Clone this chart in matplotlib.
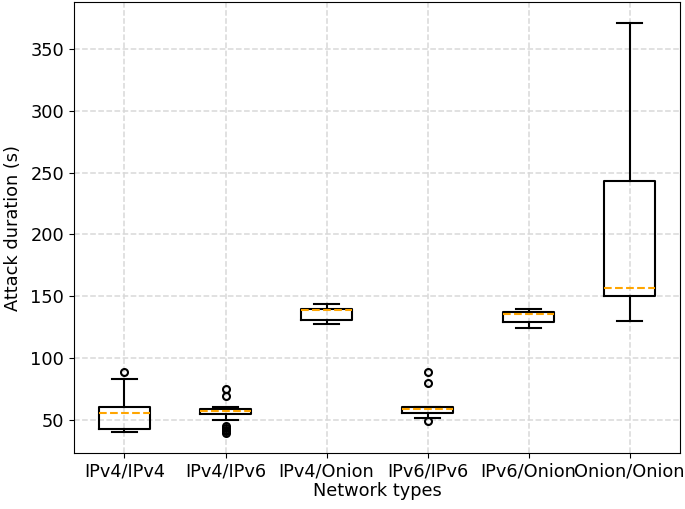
import matplotlib.pyplot as plt

# Network type categories
network_types = ["IPv4/IPv4", "IPv4/IPv6", "IPv4/Onion", "IPv6/IPv6", "IPv6/Onion", "Onion/Onion"]

# Box statistics (seconds)
whisker_low = [40.1, 49.8, 127.7, 51.0, 124.0, 129.9]
q1_values = [42.5, 54.2, 130.7, 55.5, 129.3, 149.9]
median_values = [55.5, 56.6, 139.0, 58.5, 135.8, 156.4]
q3_values = [60.1, 58.8, 139.3, 60.1, 137.2, 243.4]
whisker_high = [82.6, 60.1, 143.9, 60.1, 139.8, 371.7]
outliers = [
    [88.5],
    [74.4, 69.0, 44.5, 43.0, 41.5, 40.5, 39.5],
    [],
    [88.8, 79.8, 48.8],
    [],
    [],
]

stats = []
for i, name in enumerate(network_types):
    stats.append({
        "label": name,
        "whislo": whisker_low[i],
        "q1": q1_values[i],
        "med": median_values[i],
        "q3": q3_values[i],
        "whishi": whisker_high[i],
        "fliers": outliers[i],
    })

plt.rcParams["font.size"] = 12.8

fig = plt.figure(figsize=(6.85, 5.09), dpi=100)
ax = fig.add_axes([0.108, 0.110, 0.885, 0.886])

ax.bxp(stats,
       boxprops=dict(color="black", linewidth=1.5),
       whiskerprops=dict(color="black", linewidth=1.5),
       capprops=dict(color="black", linewidth=1.5),
       medianprops=dict(color="orange", linestyle="--", linewidth=1.5),
       flierprops=dict(marker="o", markerfacecolor="none", markeredgecolor="black",
                       markersize=5, markeredgewidth=1.5))

# grid claro y discontinuo
ax.grid(True, linestyle="--", color="#d9d9d9", linewidth=1.1)
ax.set_axisbelow(True)
ax.set_xlabel("Network types", labelpad=1)
ax.set_ylabel("Attack duration (s)", labelpad=6)

fig.savefig("out.png", dpi=100)
